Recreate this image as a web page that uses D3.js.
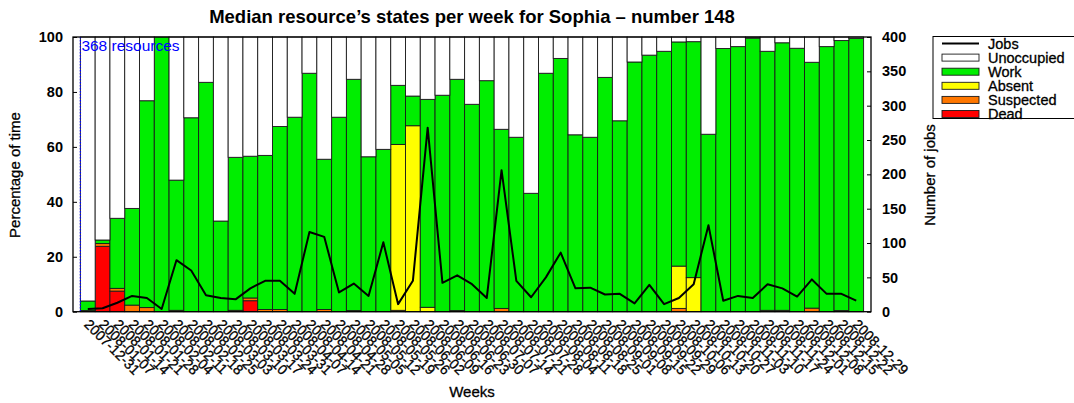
<!DOCTYPE html>
<html>
<head>
<meta charset="utf-8">
<script src="https://cdn.jsdelivr.net/npm/d3@7"></script>
<style>
  body { margin: 0; background: #fff; }
  svg text { font-family: "Liberation Sans", Arial, Helvetica, sans-serif; fill: #000; }
  svg text.heavy { stroke: #000; stroke-width: 0.3px; }
</style>
</head>
<body>
<svg id="chart" width="1074" height="403"></svg>
<script>
// Weekly medians of resource states (percent of time) and jobs count
const weeks = [
  "2007-12-31","2008-01-07","2008-01-14","2008-01-21","2008-01-28","2008-02-04","2008-02-11",
  "2008-02-18","2008-02-25","2008-03-03","2008-03-10","2008-03-17","2008-03-24","2008-03-31",
  "2008-04-07","2008-04-14","2008-04-21","2008-04-28","2008-05-05","2008-05-12","2008-05-19",
  "2008-05-26","2008-06-02","2008-06-09","2008-06-16","2008-06-23","2008-06-30","2008-07-07",
  "2008-07-14","2008-07-21","2008-07-28","2008-08-04","2008-08-11","2008-08-18","2008-08-25",
  "2008-09-01","2008-09-08","2008-09-15","2008-09-22","2008-09-29","2008-10-06","2008-10-13",
  "2008-10-20","2008-10-27","2008-11-03","2008-11-10","2008-11-17","2008-11-24","2008-12-01",
  "2008-12-08","2008-12-15","2008-12-22","2008-12-29"
];

const dead = [
  0, 23.8, 7.5, 0, 0, 0, 0, 0, 0, 0, 0, 4.0, 0, 0, 0, 0, 0, 0, 0, 0, 0, 0, 0, 0, 0, 0, 0,
  0, 0, 0, 0, 0, 0, 0, 0, 0, 0, 0, 0, 0, 0, 0, 0, 0, 0, 0, 0, 0, 0, 0, 0, 0, 0
];
const suspected = [
  0.4, 1.0, 1.0, 2.4, 1.5, 0, 0.5, 0, 0, 0, 0.5, 1.0, 0.8, 0.8, 0, 0, 0.8, 0, 0.4, 0, 0, 0.5, 0,
  0, 0, 0.4, 0, 0, 1.2, 0, 0, 0, 0, 0, 0, 0, 0, 0, 0, 0, 1.2, 0, 0, 0, 0, 0, 0.5, 0.5, 0, 1.3,
  0, 0.4, 0
];
const absent = [
  0, 0, 0, 0, 0, 0, 0, 0, 0, 0, 0, 0, 0, 0, 0, 0, 0, 0, 0, 0, 0, 60.4, 67.7, 1.6, 0, 0, 0,
  0, 0, 0, 0, 0, 0, 0, 0, 0, 0, 0, 0, 0, 15.4, 12.4, 0, 0, 0, 0, 0, 0, 0, 0, 0, 0, 0
];
const work = [
  3.5, 1.3, 25.5, 35.2, 75.3, 100, 47.4, 70.6, 83.5, 33.0, 55.7, 51.6, 56.1, 66.6, 70.8, 86.8,
  54.7, 70.8, 84.2, 56.4, 59.1, 21.5, 10.8, 75.7, 78.8, 84.2, 75.5, 84.1, 65.2, 63.5, 43.1,
  86.8, 92.2, 64.4, 63.5, 85.3, 69.5, 90.9, 93.4, 94.8, 81.6, 85.9, 64.6, 95.8, 96.5, 99.6,
  94.3, 97.4, 95.9, 89.5, 96.5, 98.3, 99.5
];
const unoccupied = [
  96.1, 73.9, 66.0, 62.4, 23.2, 0, 52.1, 29.4, 16.5, 67.0, 43.8, 43.4, 43.1, 32.6, 29.2, 13.2,
  44.5, 29.2, 15.4, 43.6, 40.9, 17.6, 21.5, 22.7, 21.2, 15.4, 24.5, 15.9, 33.6, 36.5, 56.9,
  13.2, 7.8, 35.6, 36.5, 14.7, 30.5, 9.1, 6.6, 5.2, 1.8, 1.7, 35.4, 4.2, 3.5, 0.4, 5.2, 2.1,
  4.1, 9.2, 3.5, 1.3, 0.5
];
const jobs = [
  4, 5, 13, 23, 20, 4, 75, 60, 24, 20, 18, 34, 45, 45, 26, 116, 109, 28, 41, 23, 101, 11, 45,
  268, 42, 53, 40, 20, 206, 45, 21, 50, 86, 34, 35, 25, 26, 12, 39, 11, 20, 40, 126, 16, 23,
  20, 40, 34, 22, 47, 26, 26, 16
];

const percentTicks = [0, 20, 40, 60, 80, 100];
const jobTicks = [0, 50, 100, 150, 200, 250, 300, 350, 400];
const resourceCount = 368;

const stateKeys = ["dead", "suspected", "absent", "work", "unoccupied"];
const stateNames = { dead: "Dead", suspected: "Suspected", absent: "Absent", work: "Work", unoccupied: "Unoccupied" };
const stateColors = { dead: "#ff0000", suspected: "#ff7700", absent: "#ffff00", work: "#00ee00", unoccupied: "#ffffff" };

const rows = weeks.map((w, i) => ({
  week: w, dead: dead[i], suspected: suspected[i], absent: absent[i],
  work: work[i], unoccupied: unoccupied[i], jobs: jobs[i]
}));

const plot = { left: 73, right: 871, top: 37, bottom: 311.7 };
const svg = d3.select("#chart");

const x = d3.scaleBand().domain(weeks).range([plot.left, plot.right]).paddingInner(0).paddingOuter(0.5);
const y = d3.scaleLinear().domain([0, 100]).range([plot.bottom, plot.top]);
const yJobs = d3.scaleLinear().domain([0, 400]).range([plot.bottom, plot.top]);

// Stacked state bars
const series = d3.stack().keys(stateKeys)(rows);
const layers = svg.append("g").selectAll("g").data(series).join("g")
  .attr("fill", d => stateColors[d.key]);
layers.selectAll("rect")
  .data(d => d.filter(s => s[1] - s[0] > 0))
  .join("rect")
  .attr("x", d => x(d.data.week))
  .attr("width", x.bandwidth())
  .attr("y", d => y(d[1]))
  .attr("height", d => y(d[0]) - y(d[1]))
  .attr("stroke", "#1a1a1a")
  .attr("stroke-width", 0.9);

// Marker for the start of the period
const firstX = x(weeks[0]);
svg.append("line")
  .attr("x1", firstX).attr("x2", firstX)
  .attr("y1", plot.top).attr("y2", plot.bottom)
  .attr("stroke", "#0000ff").attr("stroke-width", 1.3)
  .attr("stroke-dasharray", "1.5,1.5");
svg.append("text")
  .attr("x", firstX + 1).attr("y", 50.5)
  .style("fill", "#0000ff")
  .attr("font-size", 15.5)
  .text(`${resourceCount} resources`);

// Jobs line
const line = d3.line()
  .x(d => x(d.week) + x.bandwidth() / 2)
  .y(d => yJobs(d.jobs));
svg.append("path")
  .datum(rows)
  .attr("fill", "none")
  .attr("stroke", "#000")
  .attr("stroke-width", 2)
  .attr("stroke-linejoin", "round")
  .attr("d", line);

// Frame
svg.append("rect")
  .attr("x", plot.left).attr("y", plot.top)
  .attr("width", plot.right - plot.left).attr("height", plot.bottom - plot.top)
  .attr("fill", "none").attr("stroke", "#000").attr("stroke-width", 1.3);

// Left axis (percentage)
const leftAxis = svg.append("g")
  .attr("transform", `translate(${plot.left},0)`)
  .call(d3.axisLeft(y).tickValues(percentTicks).tickSizeInner(-4).tickSizeOuter(0).tickPadding(10));
leftAxis.select(".domain").remove();
leftAxis.selectAll("text").attr("font-size", 14.5).attr("font-weight", "bold")
  .attr("font-family", "Liberation Sans, Arial, sans-serif");

// Right axis (jobs)
const rightAxis = svg.append("g")
  .attr("transform", `translate(${plot.right},0)`)
  .call(d3.axisRight(yJobs).tickValues(jobTicks).tickSizeInner(-4).tickSizeOuter(0).tickPadding(11));
rightAxis.select(".domain").remove();
rightAxis.selectAll("text").attr("font-size", 14.5).attr("font-weight", "bold")
  .attr("font-family", "Liberation Sans, Arial, sans-serif");

// Bottom axis with slanted week labels
const bottomAxis = svg.append("g")
  .attr("transform", `translate(0,${plot.bottom})`)
  .call(d3.axisBottom(x).tickSize(0).tickPadding(0));
bottomAxis.select(".domain").remove();
bottomAxis.selectAll("text")
  .attr("class", "heavy")
  .attr("font-size", 14)
  .attr("font-family", "Liberation Sans, Arial, sans-serif")
  .attr("text-anchor", "start")
  .attr("y", 0).attr("dy", "0.35em")
  .attr("transform", "translate(-1,10) rotate(45)");

// Titles
svg.append("text")
  .attr("x", (plot.left + plot.right) / 2).attr("y", 23)
  .attr("text-anchor", "middle")
  .attr("font-size", 18.5).attr("font-weight", "bold")
  .text("Median resource’s states per week for Sophia – number 148");

svg.append("text")
  .attr("class", "heavy")
  .attr("x", (plot.left + plot.right) / 2).attr("y", 397)
  .attr("text-anchor", "middle")
  .attr("font-size", 15)
  .text("Weeks");

svg.append("text")
  .attr("class", "heavy")
  .attr("transform", `translate(20,175) rotate(-90)`)
  .attr("text-anchor", "middle")
  .attr("font-size", 15)
  .text("Percentage of time");

svg.append("text")
  .attr("class", "heavy")
  .attr("transform", `translate(935,175) rotate(-90)`)
  .attr("text-anchor", "middle")
  .attr("font-size", 15)
  .text("Number of jobs");

// Legend
const legend = svg.append("g");
legend.append("rect")
  .attr("x", 933).attr("y", 36.5).attr("width", 150).attr("height", 82)
  .attr("fill", "#fff").attr("stroke", "#000").attr("stroke-width", 1);
const legendItems = [{ key: "jobs", name: "Jobs" }]
  .concat(["unoccupied", "work", "absent", "suspected", "dead"].map(k => ({ key: k, name: stateNames[k] })));
const rowY = i => 43.5 + i * 14.1;
legendItems.forEach((item, i) => {
  const cy = rowY(i);
  if (item.key === "jobs") {
    legend.append("line")
      .attr("x1", 942).attr("x2", 979).attr("y1", cy).attr("y2", cy)
      .attr("stroke", "#000").attr("stroke-width", 2);
  } else {
    legend.append("rect")
      .attr("x", 942).attr("y", cy - 3.5).attr("width", 37).attr("height", 7)
      .attr("fill", stateColors[item.key]).attr("stroke", "#1a1a1a").attr("stroke-width", 0.9);
  }
  legend.append("text")
    .attr("class", "heavy")
    .attr("x", 988).attr("y", cy).attr("dy", "0.36em")
    .attr("font-size", 14.5)
    .text(item.name);
});
</script>
</body>
</html>
